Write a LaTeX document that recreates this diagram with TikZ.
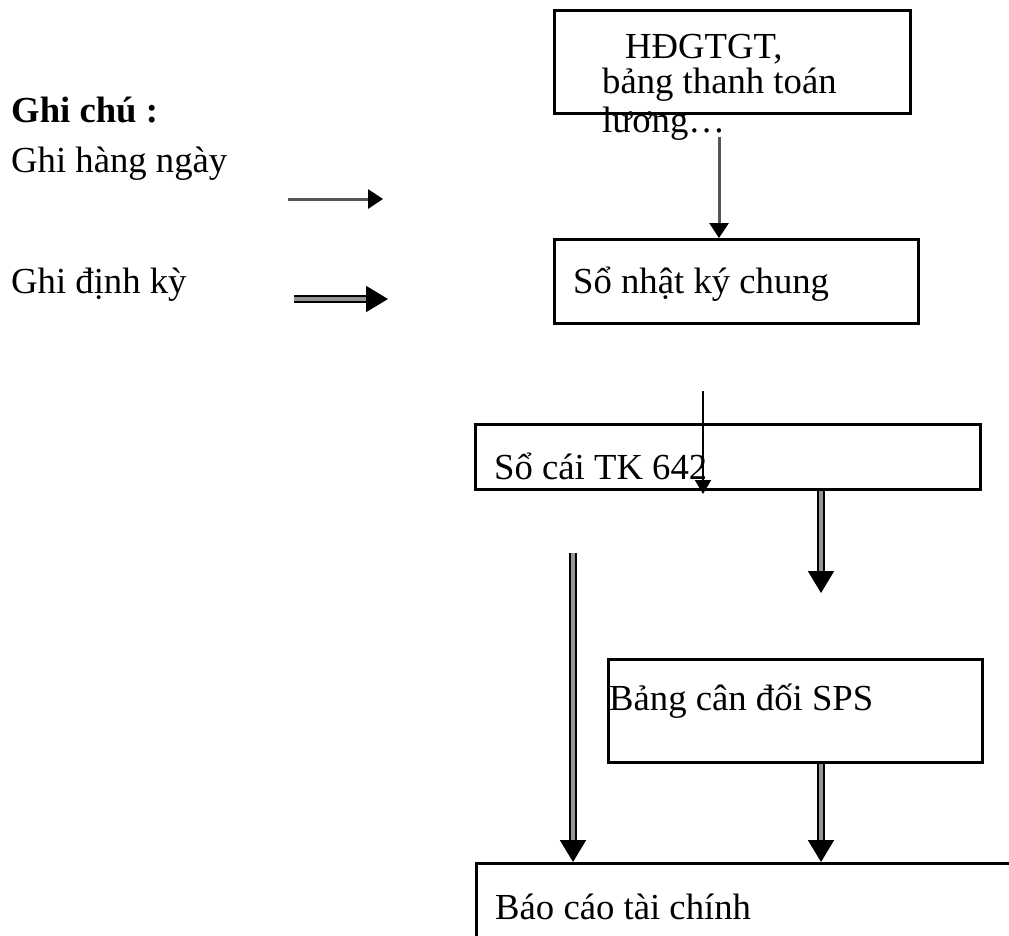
\documentclass[tikz,border=0pt]{standalone}
\usepackage{fontspec}
\setmainfont{Liberation Serif}
\usetikzlibrary{arrows.meta}

\definecolor{shaftgray}{RGB}{150,150,150}
\definecolor{linegray}{RGB}{85,85,85}

\tikzset{
  box/.style={draw=black, line width=2.5pt, rectangle, inner sep=0pt, anchor=north west, fill=white},
  txt/.style={anchor=base west, inner sep=0pt, font=\fontsize{36.7pt}{44pt}\selectfont},
  daily/.style={draw=linegray, line width=3pt, -{Triangle[length=15pt,width=19pt,color=black,fill=black]}},
  dailyblk/.style={draw=black, line width=2pt, -{Triangle[length=14pt,width=16pt]}},
  periodic/.style={draw=black, line width=1.8pt, double=shaftgray, double distance=4.5pt,
                   -{Triangle[length=22pt,width=26pt]}},
}

\begin{document}
\begin{tikzpicture}[x=1pt,y=-1pt]
\useasboundingbox (0,0) rectangle (1009,935);

% legend
\node[txt, font=\fontsize{36.7pt}{44pt}\selectfont\bfseries] (legtitle) at (11,122) {Ghi chú :};
\node[txt] (legdaily) at (11,172) {Ghi hàng ngày};
\node[txt] (legperiod) at (11,293) {Ghi định kỳ};
\coordinate (ld1) at (288,199);
\coordinate (ld2) at (383,199);
\coordinate (lp1) at (294,299);
\coordinate (lp2) at (388,299);
\draw[daily] (ld1) -- (ld2);
\draw[periodic] (lp1) -- (lp2);

% boxes
\node[box, minimum width=356pt, minimum height=103pt] (hd) at (553,9) {};
\node[box, minimum width=364pt, minimum height=84pt] (nkc) at (553,238) {};
\node[box, minimum width=505pt, minimum height=65pt] (sc) at (474,423) {};
\node[box, minimum width=374pt, minimum height=103pt] (cd) at (607,658) {};
\node[box, minimum width=560pt, minimum height=85pt] (bc) at (475,862) {};

% box texts
\node[txt] (hd1) at (625,58) {HĐGTGT,};
\node[txt] (hd2) at (602,93) {bảng thanh toán};
\node[txt] (hd3) at (602,132) {lương…};
\node[txt] (nkct) at (573,293) {Sổ nhật ký chung};
\node[txt] (sct) at (494,479) {Sổ cái TK 642};
\node[txt] (cdt) at (609,710) {Bảng cân đối SPS};
\node[txt] (bct) at (495,919) {Báo cáo tài chính};

% connectors
\coordinate (a1) at (719,137);
\draw[daily] (a1) -- (a1 |- nkc.north);

\coordinate (a2s) at (703,391);
\coordinate (a2e) at (703,494);
\draw[dailyblk] (a2s) -- (a2e);

\coordinate (d1e) at (821,593);
\draw[periodic] (sc.south -| d1e) -- (d1e);

\coordinate (d2s) at (573,553);
\draw[periodic] (d2s) -- (d2s |- bc.north);

\draw[periodic] (cd.south -| d1e) -- (d1e |- bc.north);
\end{tikzpicture}
\end{document}
